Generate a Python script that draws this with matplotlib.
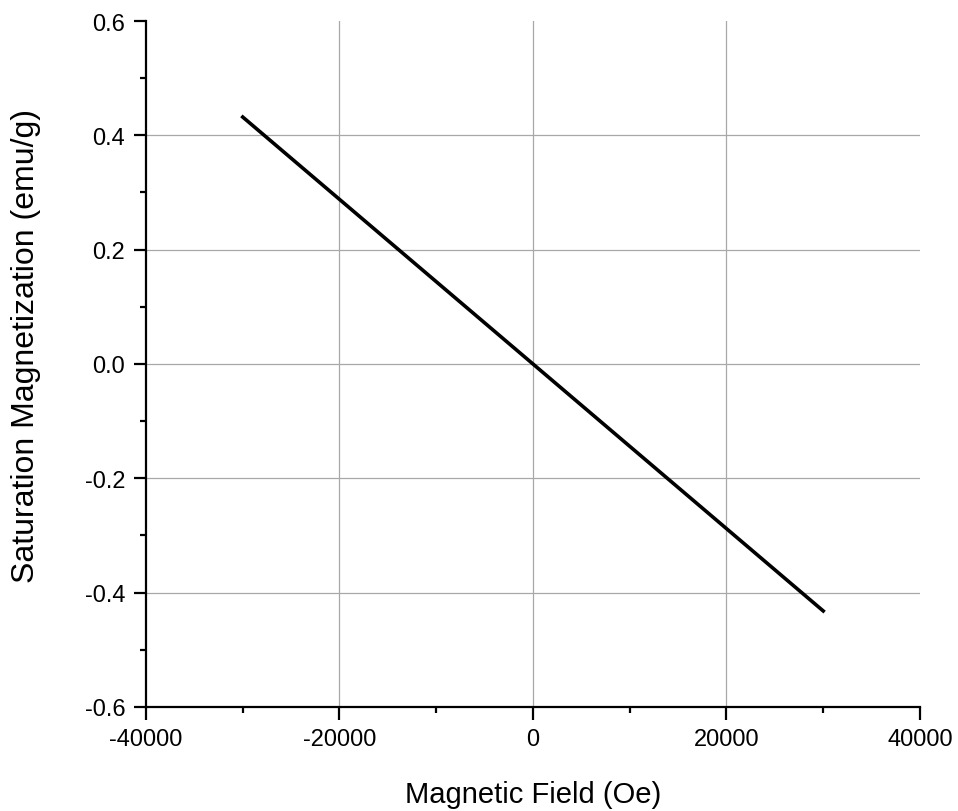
import matplotlib
matplotlib.use("Agg")
import matplotlib.pyplot as plt
from matplotlib.ticker import MultipleLocator

field = [-30000, -20000, -10000, 0, 10000, 20000, 30000]
magnetization = [0.432, 0.288, 0.144, 0.0, -0.144, -0.288, -0.432]
xticks = [-40000, -20000, 0, 20000, 40000]
yticks = [-0.6, -0.4, -0.2, 0.0, 0.2, 0.4, 0.6]

plt.rcParams['font.family'] = ['Liberation Sans', 'DejaVu Sans']

fig = plt.figure(figsize=(9.58, 8.12), dpi=100)
ax = fig.add_axes([0.1524, 0.1281, 0.8079, 0.8448])

for x in xticks[1:-1]:
    ax.axvline(x, color='#a8a8a8', lw=0.9, zorder=1)
for y in yticks[1:-1]:
    ax.axhline(y, color='#a8a8a8', lw=0.9, zorder=1)

ax.plot(field, magnetization, color='black', lw=2.6, zorder=3)

ax.set_xlim(-40000, 40000)
ax.set_ylim(-0.6, 0.6)
ax.set_xticks(xticks)
ax.set_yticks(yticks)
ax.set_xticklabels([str(v) for v in xticks])
ax.set_yticklabels([f"{v:.1f}" for v in yticks])
ax.xaxis.set_minor_locator(MultipleLocator(10000))
ax.yaxis.set_minor_locator(MultipleLocator(0.1))

for s in ['top', 'right']:
    ax.spines[s].set_visible(False)
for s in ['left', 'bottom']:
    ax.spines[s].set_linewidth(1.6)

ax.tick_params(which='major', direction='out', length=9, width=1.6, labelsize=17, pad=6)
ax.tick_params(which='minor', direction='out', length=4.5, width=1.6)

ax.set_xlabel('Magnetic Field (Oe)', fontsize=21, labelpad=22)
ax.set_ylabel('Saturation Magnetization (emu/g)', fontsize=23)
ax.yaxis.set_label_coords(-0.136, 0.528)

fig.savefig('out.png', dpi=100)
